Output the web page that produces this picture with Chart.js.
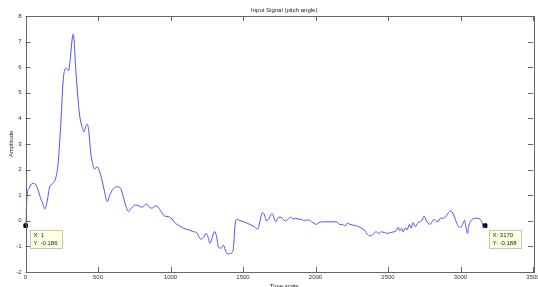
<!DOCTYPE html>
<html>
<head>
<meta charset="utf-8">
<script src="https://cdn.jsdelivr.net/npm/chart.js@4/dist/chart.umd.min.js"></script>
<style>
  html, body { margin: 0; padding: 0; background: #fff; }
  #wrap { width: 538px; height: 287px; position: relative; }
</style>
</head>
<body>
<div id="wrap"><canvas id="sig"></canvas></div>
<script>
// sample index and pitch amplitude
const timeVals = [1, 11, 25, 48, 64, 87, 103, 118, 133, 149, 167, 190, 208, 224, 236, 248, 259, 270, 282, 296, 309, 321, 328, 334, 346, 358, 373, 387, 403, 415, 426, 437, 449, 465, 477, 493, 511, 530, 545, 564, 580, 603, 626, 656, 671, 690, 711, 729, 759, 782, 805, 832, 855, 873, 894, 915, 935, 958, 988, 1011, 1034, 1061, 1089, 1111, 1132, 1153, 1180, 1210, 1228, 1245, 1258, 1272, 1286, 1304, 1318, 1332, 1350, 1364, 1378, 1394, 1410, 1424, 1435, 1444, 1455, 1470, 1486, 1520, 1554, 1584, 1600, 1616, 1634, 1648, 1662, 1676, 1692, 1703, 1715, 1726, 1737, 1749, 1762, 1777, 1795, 1813, 1830, 1845, 1864, 1887, 1905, 1921, 1937, 1955, 1974, 1990, 2006, 2024, 2047, 2081, 2116, 2143, 2167, 2185, 2203, 2219, 2235, 2253, 2276, 2299, 2318, 2341, 2357, 2373, 2388, 2402, 2418, 2436, 2455, 2475, 2494, 2517, 2540, 2556, 2570, 2581, 2593, 2604, 2621, 2631, 2648, 2659, 2673, 2689, 2707, 2724, 2735, 2749, 2762, 2776, 2792, 2804, 2817, 2831, 2845, 2861, 2877, 2896, 2913, 2932, 2941, 2953, 2964, 2975, 2987, 3003, 3017, 3028, 3037, 3049, 3056, 3068, 3083, 3102, 3120, 3136, 3147, 3158, 3165, 3170];
const ampVals = [-0.186, 1.0, 1.27, 1.46, 1.45, 1.2, 0.9, 0.7, 0.46, 0.75, 1.33, 1.46, 1.66, 2.18, 3.09, 4.26, 5.43, 5.89, 5.96, 5.86, 6.35, 7.06, 7.28, 7.13, 5.96, 5.04, 4.13, 3.74, 3.48, 3.68, 3.77, 3.48, 2.7, 2.18, 2.02, 2.11, 1.92, 1.53, 1.14, 0.75, 0.99, 1.23, 1.33, 1.27, 1.01, 0.62, 0.36, 0.49, 0.62, 0.58, 0.53, 0.66, 0.53, 0.49, 0.58, 0.53, 0.36, 0.19, 0.16, 0.07, -0.1, -0.19, -0.29, -0.33, -0.36, -0.42, -0.46, -0.72, -0.65, -0.49, -0.62, -0.88, -0.68, -0.42, -0.62, -1.04, -1.07, -0.95, -1.14, -1.3, -1.28, -1.25, -1.0, -0.23, 0.06, 0.03, 0.0, -0.07, -0.16, -0.25, -0.33, -0.04, 0.33, 0.23, 0.0, 0.06, 0.23, 0.27, 0.1, -0.04, 0.06, 0.14, 0.14, 0.06, 0.0, 0.07, 0.14, 0.07, 0.1, 0.06, 0.06, 0.0, 0.03, 0.03, -0.04, -0.1, -0.14, -0.07, -0.04, -0.04, -0.04, -0.04, -0.14, -0.14, -0.2, -0.1, -0.13, -0.16, -0.19, -0.23, -0.29, -0.39, -0.53, -0.59, -0.58, -0.49, -0.43, -0.49, -0.43, -0.46, -0.49, -0.46, -0.43, -0.39, -0.25, -0.39, -0.29, -0.43, -0.27, -0.36, -0.14, -0.29, -0.07, -0.23, -0.07, -0.04, 0.03, 0.19, 0.03, -0.1, -0.13, -0.04, 0.06, 0.0, -0.04, 0.1, 0.1, 0.14, 0.29, 0.39, 0.36, 0.23, 0.06, -0.1, -0.23, -0.25, -0.1, 0.03, -0.23, -0.49, -0.23, -0.04, 0.06, 0.1, 0.1, 0.06, -0.04, -0.29, -0.23, -0.188];

// data cursor points
const tipX = [1, 3170];
const tipY = [-0.186, -0.188];
const tipText = [["X: 1", "Y: -0.186"], ["X: 3170", "Y: -0.188"]];

const xTicks = [0, 500, 1000, 1500, 2000, 2500, 3000, 3500];
const yTicks = [-2, -1, 0, 1, 2, 3, 4, 5, 6, 7, 8];

const fontFam = "'Liberation Sans', Arial, sans-serif";
const axisColor = "#666";

const matlabBox = {
  id: "matlabBox",
  afterDatasetsDraw(chart) {
    const { ctx, chartArea: a, scales } = chart;
    const x = scales.x, y = scales.y;
    ctx.save();
    // axes box
    ctx.strokeStyle = axisColor;
    ctx.lineWidth = 1;
    ctx.strokeRect(Math.round(a.left) + 0.5, Math.round(a.top) + 0.5,
      Math.round(a.right - a.left), Math.round(a.bottom - a.top));
    // inward ticks on all sides
    ctx.beginPath();
    xTicks.forEach(v => {
      const px = Math.round(x.getPixelForValue(v)) + 0.5;
      ctx.moveTo(px, a.bottom); ctx.lineTo(px, a.bottom - 5);
      ctx.moveTo(px, a.top); ctx.lineTo(px, a.top + 5);
    });
    yTicks.forEach(v => {
      const py = Math.round(y.getPixelForValue(v)) + 0.5;
      ctx.moveTo(a.left, py); ctx.lineTo(a.left + 5, py);
      ctx.moveTo(a.right, py); ctx.lineTo(a.right - 5, py);
    });
    ctx.stroke();

    // data tip boxes
    ctx.font = "6px " + fontFam;
    ctx.textBaseline = "middle";
    ctx.textAlign = "left";
    tipX.forEach((v, i) => {
      const px = x.getPixelForValue(v);
      const py = y.getPixelForValue(tipY[i]);
      const lines = tipText[i];
      const w = Math.max(...lines.map(t => ctx.measureText(t).width)) + 8;
      const bx = Math.round(px + 4) + 0.5, by = Math.round(py + 4) + 0.5;
      ctx.fillStyle = "#ffffe1";
      ctx.strokeStyle = "#c8c8b0";
      ctx.fillRect(bx, by, w, 18);
      ctx.strokeRect(bx, by, w, 18);
      ctx.fillStyle = "#222";
      ctx.fillText(lines[0], bx + 3, by + 5);
      ctx.fillText(lines[1], bx + 3, by + 12.5);
    });

    // titles
    ctx.fillStyle = "#222";
    ctx.textAlign = "center";
    ctx.font = "6px " + fontFam;
    ctx.fillText("Input Signal (pitch angle)", (a.left + a.right) / 2 + 5, 10);
    ctx.fillText("Time scale", (a.left + a.right) / 2 + 5, 286);
    ctx.translate(11, (a.top + a.bottom) / 2);
    ctx.rotate(-Math.PI / 2);
    ctx.fillText("Amplitude", 0, 0);
    ctx.restore();
  }
};

new Chart(document.getElementById("sig"), {
  type: "line",
  data: {
    datasets: [{
      data: timeVals.map((t, i) => ({ x: t, y: ampVals[i] })),
      borderColor: "#5050ff",
      borderWidth: 1,
      pointRadius: 0,
      cubicInterpolationMode: "monotone",
      fill: false
    }, {
      type: "scatter",
      data: tipX.map((t, i) => ({ x: t, y: tipY[i] })),
      pointStyle: "rect",
      pointRadius: 2.5,
      backgroundColor: "#000",
      borderColor: "#000",
      borderWidth: 1,
      clip: false
    }]
  },
  options: {
    responsive: true,
    maintainAspectRatio: false,
    animation: false,
    layout: { padding: { top: 16, right: 3, left: 0, bottom: 0 } },
    plugins: { legend: { display: false }, tooltip: { enabled: false }, title: { display: false } },
    scales: {
      x: {
        type: "linear",
        min: 0, max: 3500,
        afterBuildTicks: s => { s.ticks = xTicks.map(v => ({ value: v })); },
        afterFit: s => { s.height = 15; s.paddingLeft = 0; s.paddingRight = 0; },
        grid: { display: false, drawTicks: false },
        border: { display: false },
        ticks: { color: "#333", padding: 2, maxRotation: 0, autoSkip: false, callback: v => String(v), font: { size: 6, family: fontFam } }
      },
      y: {
        min: -2, max: 8,
        afterBuildTicks: s => { s.ticks = yTicks.map(v => ({ value: v })); },
        afterFit: s => { s.width = 25.5; s.paddingTop = 0; s.paddingBottom = 0; },
        grid: { display: false, drawTicks: false },
        border: { display: false },
        ticks: { color: "#333", padding: 4, callback: v => String(v), font: { size: 6, family: fontFam } }
      }
    }
  },
  plugins: [matlabBox]
});
</script>
</body>
</html>
